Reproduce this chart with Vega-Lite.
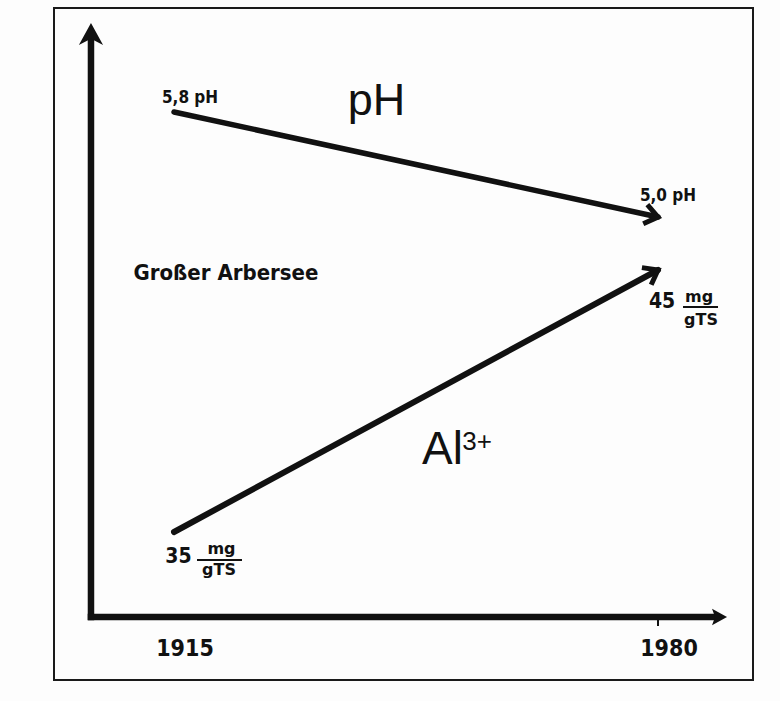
{
  "$schema": "https://vega.github.io/schema/vega-lite/v6.json",
  "width": 699,
  "height": 672,
  "padding": {"left": 54, "top": 8, "right": 27, "bottom": 21},
  "background": "#fdfdfd",
  "config": {
    "view": {"stroke": "#1a1a1a", "strokeWidth": 2},
    "text": {"color": "#111111"}
  },
  "datasets": {
    "ph": [{"year": 1915, "pH": 5.8}, {"year": 1980, "pH": 5.0}],
    "al": [{"year": 1915, "al": 35}, {"year": 1980, "al": 45}],
    "axes": [
      {"year": 1903.85, "year2": 1903.85, "pH": 1.9524, "pH2": 6.387},
      {"year": 1903.85, "year2": 1987.79, "pH": 1.9524, "pH2": 1.9524}
    ],
    "tick": [{"year": 1980, "year2": 1980, "pH": 1.9524, "pH2": 1.884}],
    "yHead": [{"year": 1903.85, "pH": 6.478}],
    "xHead": [{"year": 1989.27, "pH": 1.9524}],
    "yearLabels": [{"text": "1915", "year": 1915, "pH": 1.6553}, {"text": "1980", "year": 1980, "pH": 1.6553}],
    "phLabels": [
      {"text": "5,8 pH", "year": 1917.15, "pH": 5.8686},
      {"text": "5,0 pH", "year": 1981.34, "pH": 5.1219}
    ],
    "lake": [{"text": "Großer Arbersee", "year": 1921.98, "pH": 4.52}],
    "phTitle": [{"text": "pH", "year": 1942.2, "pH": 5.777}],
    "alNumbers": [
      {"text": "35", "year": 1915.6, "al": 33.817},
      {"text": "45", "year": 1980.54, "al": 43.55}
    ],
    "alUnits": [
      {"text": "mg", "year": 1921.38, "al": 34.16},
      {"text": "gTS", "year": 1921.04, "al": 33.359},
      {"text": "mg", "year": 1985.51, "al": 43.779},
      {"text": "gTS", "year": 1985.77, "al": 42.901}
    ],
    "alBars": [
      {"year": 1918.09, "year2": 1924.13, "al": 33.931},
      {"year": 1983.36, "year2": 1988.06, "al": 43.588}
    ],
    "alTitle": [{"text": "Al", "year": 1948.31, "al": 37.595}],
    "alSup": [{"text": "3+", "year": 1953.7, "al": 38.13}]
  },
  "layer": [
    {
      "layer": [
        {
          "data": {"name": "axes"},
          "mark": {"type": "rule", "color": "#111111", "strokeWidth": 6.5, "strokeCap": "square"},
          "encoding": {
            "x": {"field": "year", "type": "quantitative", "scale": {"domain": [1898.884, 1992.758], "nice": false, "zero": false}, "axis": null},
            "x2": {"field": "year2"},
            "y": {"field": "pH", "type": "quantitative", "scale": {"domain": [1.4724, 6.5924], "nice": false, "zero": false}, "axis": null},
            "y2": {"field": "pH2"}
          }
        },
        {
          "data": {"name": "tick"},
          "mark": {"type": "rule", "color": "#111111", "strokeWidth": 2},
          "encoding": {
            "x": {"field": "year", "type": "quantitative"},
            "x2": {"field": "year2"},
            "y": {"field": "pH", "type": "quantitative"},
            "y2": {"field": "pH2"}
          }
        },
        {
          "data": {"name": "yHead"},
          "mark": {"type": "point", "shape": "M 0 0 L -1 -0.55 L -0.72 0 L -1 0.55 Z", "filled": true, "size": 1936, "angle": 270, "color": "#111111", "opacity": 1},
          "encoding": {
            "x": {"field": "year", "type": "quantitative"},
            "y": {"field": "pH", "type": "quantitative"}
          }
        },
        {
          "data": {"name": "xHead"},
          "mark": {"type": "point", "shape": "M 0 0 L -1 -0.55 L -0.8 0 L -1 0.55 Z", "filled": true, "size": 900, "angle": 0, "color": "#111111", "opacity": 1},
          "encoding": {
            "x": {"field": "year", "type": "quantitative"},
            "y": {"field": "pH", "type": "quantitative"}
          }
        },
        {
          "data": {"name": "yearLabels"},
          "mark": {"type": "text", "font": "DejaVu Sans Condensed", "fontWeight": "bold", "fontSize": 23, "align": "center", "baseline": "alphabetic", "dx": 11},
          "encoding": {
            "x": {"field": "year", "type": "quantitative"},
            "y": {"field": "pH", "type": "quantitative"},
            "text": {"field": "text"}
          }
        },
        {
          "data": {"name": "ph"},
          "mark": {"type": "line", "color": "#111111", "strokeWidth": 5.5, "strokeCap": "round"},
          "encoding": {
            "x": {"field": "year", "type": "quantitative"},
            "y": {"field": "pH", "type": "quantitative"}
          }
        },
        {
          "data": {"name": "ph"},
          "transform": [{"filter": "datum.year == 1980"}],
          "mark": {"type": "point", "shape": "M -1 -0.75 L 0 0 L -1 0.75", "filled": false, "size": 676, "angle": 12.2, "color": "#111111", "strokeWidth": 5, "strokeJoin": "miter", "opacity": 1},
          "encoding": {
            "x": {"field": "year", "type": "quantitative"},
            "y": {"field": "pH", "type": "quantitative"}
          }
        },
        {
          "data": {"name": "phLabels"},
          "mark": {"type": "text", "font": "DejaVu Sans Condensed", "fontWeight": "bold", "fontSize": 17, "align": "center", "baseline": "alphabetic"},
          "encoding": {
            "x": {"field": "year", "type": "quantitative"},
            "y": {"field": "pH", "type": "quantitative"},
            "text": {"field": "text"}
          }
        },
        {
          "data": {"name": "lake"},
          "mark": {"type": "text", "font": "DejaVu Sans Condensed", "fontWeight": "bold", "fontSize": 22, "align": "center", "baseline": "alphabetic"},
          "encoding": {
            "x": {"field": "year", "type": "quantitative"},
            "y": {"field": "pH", "type": "quantitative"},
            "text": {"field": "text"}
          }
        },
        {
          "data": {"name": "phTitle"},
          "mark": {"type": "text", "font": "Liberation Sans", "fontSize": 45, "align": "center", "baseline": "alphabetic"},
          "encoding": {
            "x": {"field": "year", "type": "quantitative"},
            "y": {"field": "pH", "type": "quantitative"},
            "text": {"field": "text"}
          }
        }
      ]
    },
    {
      "layer": [
        {
          "data": {"name": "al"},
          "mark": {"type": "line", "color": "#111111", "strokeWidth": 6, "strokeCap": "round"},
          "encoding": {
            "x": {"field": "year", "type": "quantitative"},
            "y": {"field": "al", "type": "quantitative", "scale": {"domain": [29.351, 55.0], "nice": false, "zero": false}, "axis": null}
          }
        },
        {
          "data": {"name": "al"},
          "transform": [{"filter": "datum.year == 1980"}],
          "mark": {"type": "point", "shape": "M -1 -0.75 L 0 0 L -1 0.75", "filled": false, "size": 676, "angle": 331.6, "color": "#111111", "strokeWidth": 5, "strokeJoin": "miter", "opacity": 1},
          "encoding": {
            "x": {"field": "year", "type": "quantitative"},
            "y": {"field": "al", "type": "quantitative"}
          }
        },
        {
          "data": {"name": "alNumbers"},
          "mark": {"type": "text", "font": "DejaVu Sans Condensed", "fontWeight": "bold", "fontSize": 21, "align": "center", "baseline": "alphabetic"},
          "encoding": {
            "x": {"field": "year", "type": "quantitative"},
            "y": {"field": "al", "type": "quantitative"},
            "text": {"field": "text"}
          }
        },
        {
          "data": {"name": "alUnits"},
          "mark": {"type": "text", "font": "DejaVu Sans", "fontWeight": "bold", "fontSize": 16, "align": "center", "baseline": "alphabetic"},
          "encoding": {
            "x": {"field": "year", "type": "quantitative"},
            "y": {"field": "al", "type": "quantitative"},
            "text": {"field": "text"}
          }
        },
        {
          "data": {"name": "alBars"},
          "mark": {"type": "rule", "color": "#111111", "strokeWidth": 2},
          "encoding": {
            "x": {"field": "year", "type": "quantitative"},
            "x2": {"field": "year2"},
            "y": {"field": "al", "type": "quantitative"}
          }
        },
        {
          "data": {"name": "alTitle"},
          "mark": {"type": "text", "font": "Liberation Sans", "fontSize": 46, "align": "left", "baseline": "alphabetic"},
          "encoding": {
            "x": {"field": "year", "type": "quantitative"},
            "y": {"field": "al", "type": "quantitative"},
            "text": {"field": "text"}
          }
        },
        {
          "data": {"name": "alSup"},
          "mark": {"type": "text", "font": "Liberation Sans", "fontSize": 26, "align": "left", "baseline": "alphabetic"},
          "encoding": {
            "x": {"field": "year", "type": "quantitative"},
            "y": {"field": "al", "type": "quantitative"},
            "text": {"field": "text"}
          }
        }
      ]
    }
  ],
  "resolve": {"scale": {"y": "independent"}}
}
